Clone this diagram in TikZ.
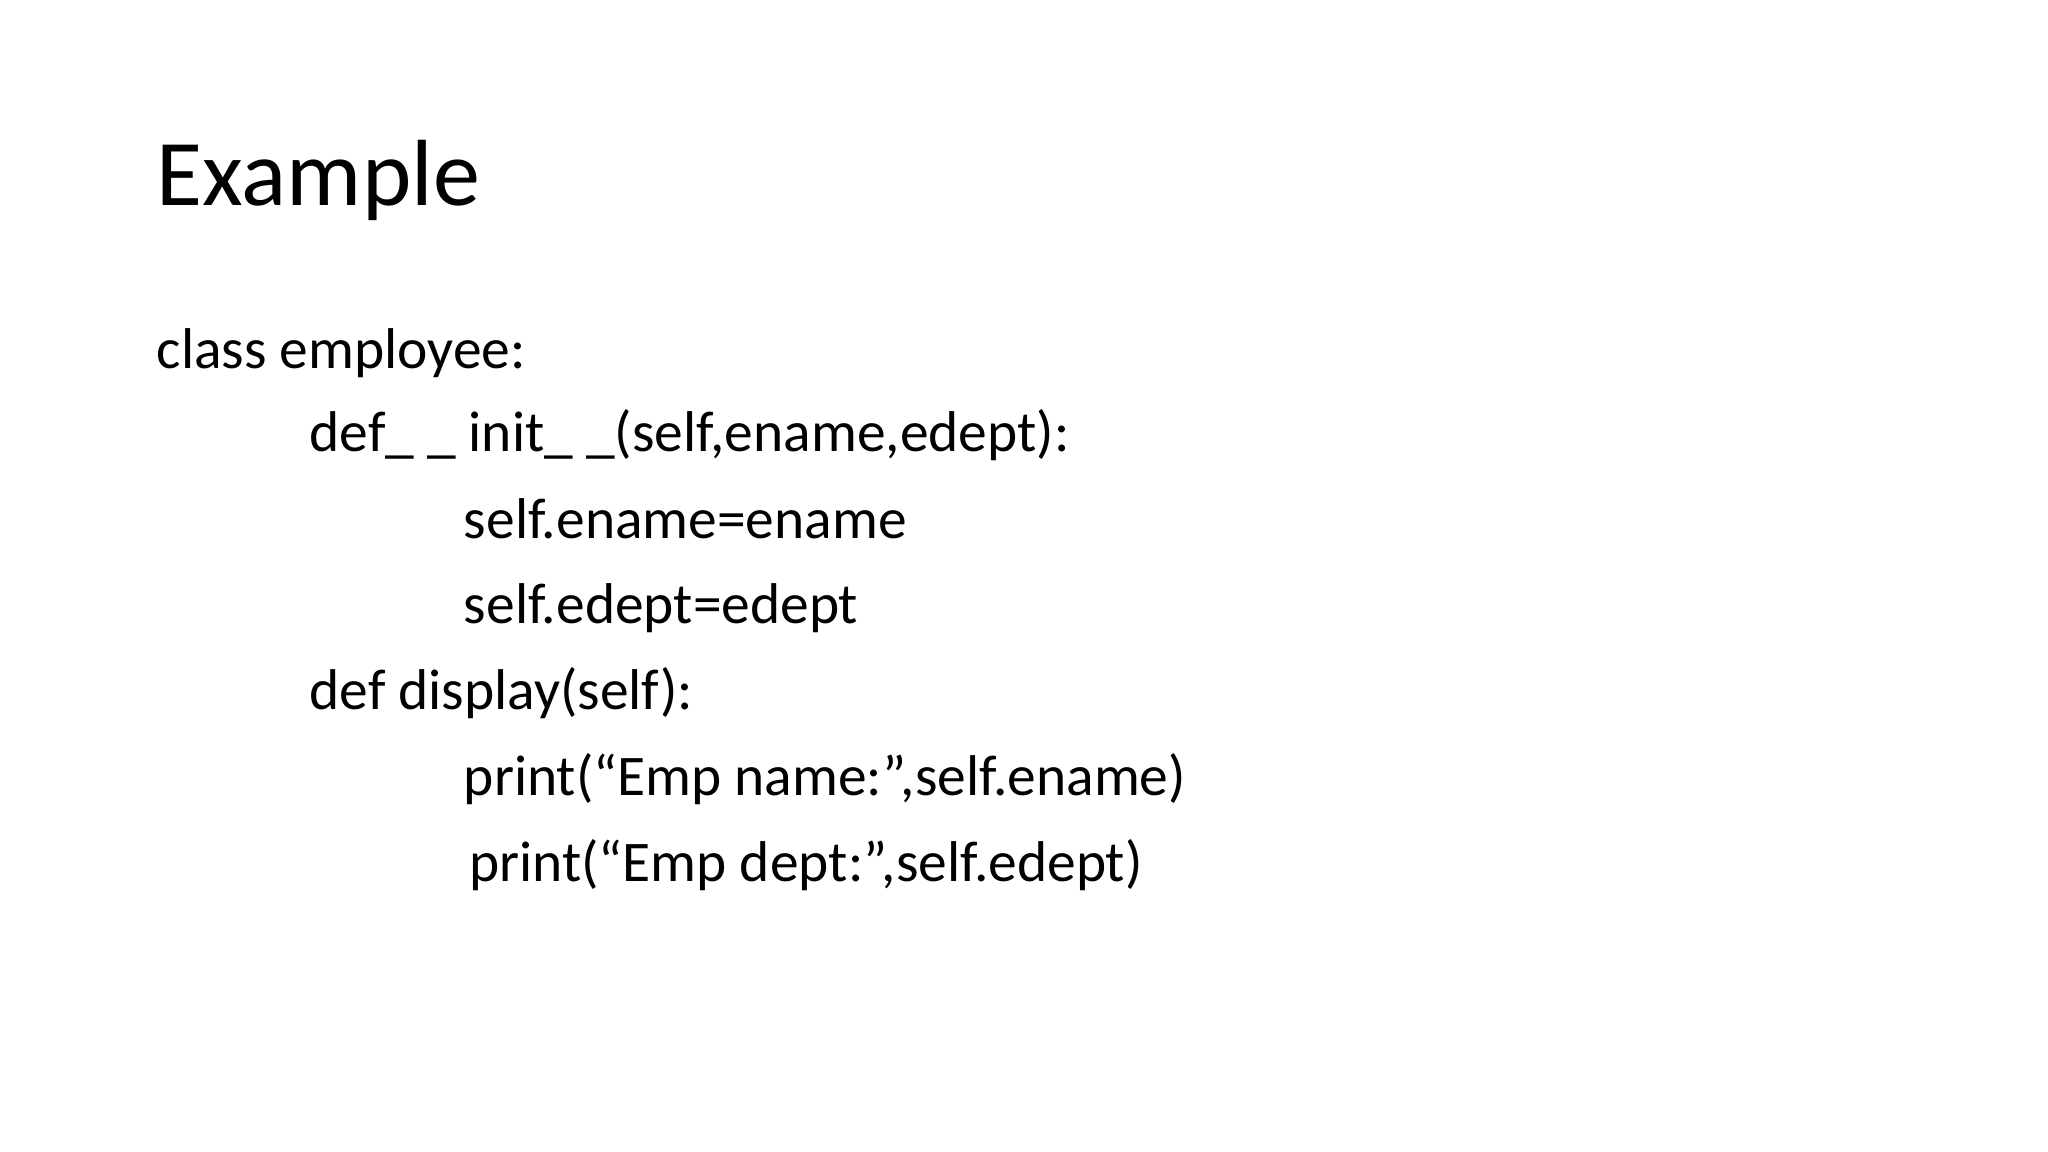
\documentclass[tikz,border=0pt]{standalone}
\usepackage{fontspec}
\setmainfont{Carlito}
\begin{document}
\begin{tikzpicture}[x=1pt,y=-1pt,
  ln/.style={anchor=base west,inner sep=0pt,font=\fontsize{44}{50}\selectfont},
  ttl/.style={anchor=base west,inner sep=0pt,font=\fontsize{72}{80}\selectfont}]
\useasboundingbox[fill=white] (0,0) rectangle (1568,882);
\node[ttl] (t) at (120,157) {Example};
\node[ln] (l1) at (120,282) {class employee:};
\node[ln] (l2) at (237,346) {def\_ \_ init\_ \_(self,ename,edept):};
\node[ln] (l3) at (355,412) {self.ename=ename};
\node[ln] (l4) at (355,477) {self.edept=edept};
\node[ln] (l5) at (237,543) {def display(self):};
\node[ln] (l6) at (355,609) {print(“Emp name:”,self.ename)};
\node[ln] (l7) at (359,675) {print(“Emp dept:”,self.edept)};
\end{tikzpicture}
\end{document}
